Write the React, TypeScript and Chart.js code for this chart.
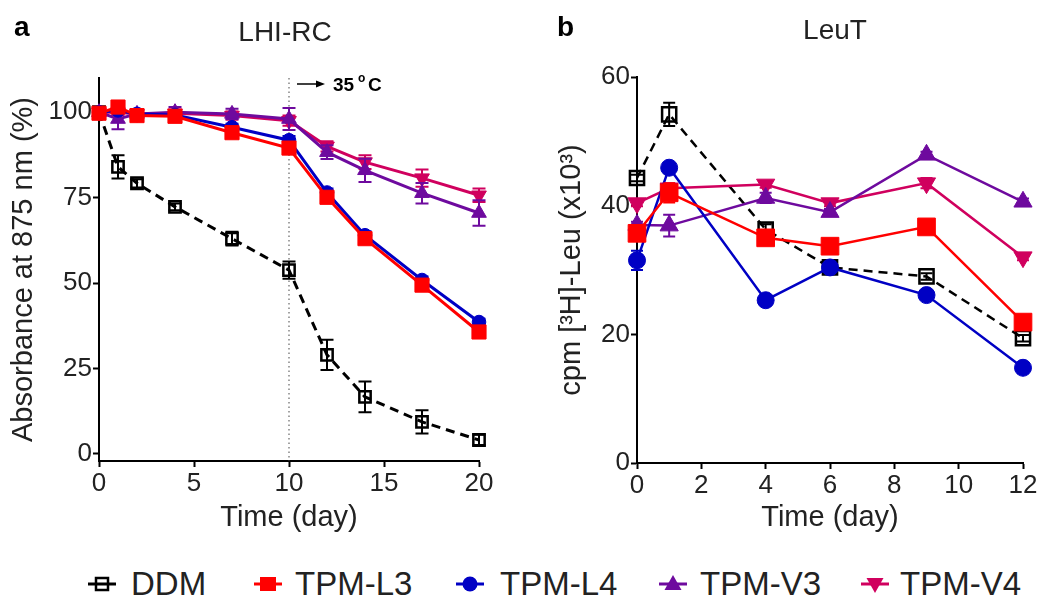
import React, { useEffect, useRef } from "react";
import { Chart, registerables } from "chart.js";

Chart.register(...registerables);

const FONT = "'Liberation Sans', Arial, Helvetica, sans-serif";

// ---------- data ----------
const seriesNames = ["DDM", "TPM-L3", "TPM-L4", "TPM-V3", "TPM-V4"];
const seriesColors = ["#000000", "#FF0000", "#0000C4", "#6E0A9E", "#D0005E"];

// Panel a: LHI-RC, absorbance at 875 nm (%)
const daysA = [0, 1, 2, 4, 7, 10, 12, 14, 17, 20];
const ddmA = [100, 84, 79.2, 72.3, 63, 53.8, 29, 16.7, 9.4, 4.1];
const ddmAErr = [1, 3.4, 1.2, 1, 2, 2.5, 4.4, 4.5, 3.4, 1.5];
const l3A = [99.7, 101.5, 99, 98.8, 94, 89.5, 75.1, 63, 49.4, 35.7];
const l3AErr = [1, 1, 1, 1, 1.2, 1.5, 1.5, 1.5, 1.2, 1];
const l4A = [100, 100.5, 99.5, 99.2, 95.6, 91.8, 76.5, 64, 50.9, 38.6];
const l4AErr = [0.8, 0.8, 0.8, 0.8, 1, 1.2, 1.2, 1.2, 1, 1];
const v3A = [100, 98, 99.5, 100, 99.5, 98, 88.3, 83, 76.3, 70.5];
const v3AErr = [1, 3, 1, 1.5, 1.5, 3.2, 2, 3.4, 3, 3.7];
const v4A = [100, 100, 99.5, 99.7, 99, 97.5, 90, 85.4, 80.7, 75.7];
const v4AErr = [1, 1, 1, 1, 1.2, 1.5, 1.5, 2, 2.5, 2];

// Panel b: LeuT, cpm [3H]-Leu (x10^3)
const daysB = [0, 1, 4, 6, 9, 12];
const ddmB = [44.3, 54.2, 36.3, 30.4, 29, 19.4];
const ddmBErr = [0.5, 1.8, 0.8, 0.5, 0.5, 0.5];
const l3B = [35.7, 42, 35, 33.7, 36.7, 21.9];
const l3BErr = [0.8, 1.5, 1, 0.5, 0.5, 0.5];
const l4B = [31.5, 45.9, 25.3, 30.4, 26.1, 14.8];
const l4BErr = [1.5, 0.5, 0.5, 0.5, 0.5, 0.5];
const v3B = [37, 36.9, 41.2, 39, 47.9, 40.6];
const v3BErr = [0.5, 1.7, 0.8, 0.5, 0.5, 0.5];
const v4B = [40.4, 42.7, 43.3, 40.4, 43.5, 32];
const v4BErr = [0.5, 0.8, 0.5, 0.5, 0.8, 0.5];

const ticksAX = [0, 5, 10, 15, 20];
const ticksAY = [0, 25, 50, 75, 100];
const ticksBX = [0, 2, 4, 6, 8, 10, 12];
const ticksBY = [0, 20, 40, 60];

const titleA = "LHI-RC";
const titleB = "LeuT";
const yTitleA = "Absorbance at 875 nm (%)";
const yTitleB = "cpm [³H]-Leu (x10³)";
const xTitle = "Time (day)";
const heatDay = 10;

// ---------- plugins ----------
const errorBarPlugin = {
  id: "errorBars",
  beforeDatasetDraw(chart: any, args: any) {
    const ds: any = chart.data.datasets[args.index];
    const errs: number[] | undefined = ds.errors;
    if (!errs) return;
    const ctx = chart.ctx;
    const ys = chart.scales.y;
    const cap = ds.capHalf || 6;
    ctx.save();
    ctx.strokeStyle = ds.borderColor;
    ctx.lineWidth = 2;
    ctx.setLineDash([]);
    args.meta.data.forEach((pt: any, i: number) => {
      const e = errs[i];
      if (!e) return;
      const v = ds.data[i].y;
      const yt = ys.getPixelForValue(v + e);
      const yb = ys.getPixelForValue(v - e);
      ctx.beginPath();
      ctx.moveTo(pt.x, yt);
      ctx.lineTo(pt.x, yb);
      ctx.moveTo(pt.x - cap, yt);
      ctx.lineTo(pt.x + cap, yt);
      ctx.moveTo(pt.x - cap, yb);
      ctx.lineTo(pt.x + cap, yb);
      ctx.stroke();
    });
    ctx.restore();
  },
};

const heatPlugin = {
  id: "heatLine",
  beforeDatasetsDraw(chart: any) {
    const ctx = chart.ctx;
    const x = chart.scales.x.getPixelForValue(heatDay);
    const { top, bottom } = chart.chartArea;
    ctx.save();
    ctx.strokeStyle = "#666";
    ctx.lineWidth = 1.2;
    ctx.setLineDash([1.5, 3]);
    ctx.beginPath();
    ctx.moveTo(x, top);
    ctx.lineTo(x, bottom);
    ctx.stroke();
    ctx.restore();
  },
  afterDraw(chart: any) {
    const ctx = chart.ctx;
    const x = chart.scales.x.getPixelForValue(heatDay);
    const y = chart.chartArea.top + 6;
    ctx.save();
    ctx.strokeStyle = "#000";
    ctx.fillStyle = "#000";
    ctx.lineWidth = 1.5;
    ctx.beginPath();
    ctx.moveTo(x + 8, y);
    ctx.lineTo(x + 30, y);
    ctx.stroke();
    ctx.beginPath();
    ctx.moveTo(x + 36, y);
    ctx.lineTo(x + 27, y - 3.5);
    ctx.lineTo(x + 27, y + 3.5);
    ctx.closePath();
    ctx.fill();
    ctx.textBaseline = "alphabetic";
    ctx.font = `bold 19px ${FONT}`;
    ctx.fillText("35", x + 44, y + 7);
    ctx.font = `bold 12px ${FONT}`;
    ctx.fillText("o", x + 69, y - 2);
    ctx.font = `bold 19px ${FONT}`;
    ctx.fillText("C", x + 79, y + 7);
    ctx.restore();
  },
};

// ---------- helpers ----------
type Sizes = { sq: number; circ: number; tri: number; ddm: number; lw: number; cap: number };

function buildDatasets(days: number[], vals: number[][], errs: number[][], s: Sizes) {
  const styles = [
    { pointStyle: "rect", radius: s.ddm, rot: 0 },
    { pointStyle: "rect", radius: s.sq, rot: 0 },
    { pointStyle: "circle", radius: s.circ, rot: 0 },
    { pointStyle: "triangle", radius: s.tri, rot: 0 },
    { pointStyle: "triangle", radius: s.tri, rot: 180 },
  ];
  const order = [4, 0, 1, 2, 3];
  return vals.map((series, k) => {
    const color = seriesColors[k];
    const isDDM = k === 0;
    return {
      label: seriesNames[k],
      data: days.map((d, i) => ({ x: d, y: series[i] })),
      errors: errs[k],
      capHalf: s.cap,
      borderColor: color,
      backgroundColor: color,
      borderWidth: s.lw,
      borderDash: isDDM ? [9, 6] : [],
      tension: 0,
      pointStyle: styles[k].pointStyle,
      pointRadius: styles[k].radius,
      pointRotation: styles[k].rot,
      pointBackgroundColor: isDDM ? "rgba(0,0,0,0)" : color,
      pointBorderColor: color,
      pointBorderWidth: isDDM ? 2.5 : 1,
      clip: false,
      order: order[k],
    };
  });
}

function axis(opts: {
  min: number;
  max: number;
  ticks: number[];
  title: string;
  isX: boolean;
  size: number;
  titlePad: any;
}) {
  return {
    type: "linear",
    min: opts.min,
    max: opts.max,
    afterBuildTicks: (scale: any) => {
      scale.ticks = opts.ticks.map((v) => ({ value: v }));
    },
    afterFit: (scale: any) => {
      if (opts.isX) scale.height = opts.size;
      else scale.width = opts.size;
    },
    border: { display: true, color: "#000", width: 2 },
    grid: {
      display: true,
      drawOnChartArea: false,
      drawTicks: true,
      tickLength: 6,
      tickWidth: 2,
      tickColor: "#000",
    },
    ticks: {
      autoSkip: false,
      maxRotation: 0,
      padding: 1,
      color: "#222",
      font: { family: FONT, size: 26 },
    },
    title: {
      display: true,
      text: opts.title,
      color: "#222",
      font: { family: FONT, size: 29 },
      padding: opts.titlePad,
    },
  };
}

function useChart(ref: React.RefObject<HTMLCanvasElement>, make: () => any) {
  useEffect(() => {
    if (!ref.current) return;
    const chart = new Chart(ref.current, make());
    return () => chart.destroy();
  }, []);
}

// ---------- components ----------
function LegendMarker({ k }: { k: number }) {
  const c = seriesColors[k];
  const cx = 14;
  const cy = 10;
  let shape: any = null;
  if (k === 0)
    shape = <rect x={cx - 6} y={cy - 6} width={12} height={12} fill="none" stroke={c} strokeWidth={2.5} />;
  if (k === 1) shape = <rect x={cx - 8} y={cy - 7} width={16} height={14} fill={c} />;
  if (k === 2) shape = <circle cx={cx} cy={cy} r={7.5} fill={c} />;
  if (k === 3) shape = <polygon points={`${cx},${cy - 9} ${cx + 8.5},${cy + 6} ${cx - 8.5},${cy + 6}`} fill={c} />;
  if (k === 4) shape = <polygon points={`${cx},${cy + 9} ${cx + 8.5},${cy - 6} ${cx - 8.5},${cy - 6}`} fill={c} />;
  return (
    <svg width={28} height={20} style={{ display: "block" }}>
      <line x1={0} y1={cy} x2={28} y2={cy} stroke={c} strokeWidth={3} />
      {shape}
    </svg>
  );
}

const legendMarkerCenters = [102, 268, 470, 673, 875];
const legendTextLefts = [131, 295, 500, 700, 900];

export default function App() {
  const refA = useRef<HTMLCanvasElement>(null);
  const refB = useRef<HTMLCanvasElement>(null);

  useEffect(() => {
    document.body.style.margin = "0";
  }, []);

  useChart(refA, () => ({
    type: "line",
    data: {
      datasets: buildDatasets(
        daysA,
        [ddmA, l3A, l4A, v3A, v4A],
        [ddmAErr, l3AErr, l4AErr, v3AErr, v4AErr],
        { sq: 10, circ: 6.8, tri: 8.5, ddm: 8, lw: 3, cap: 6.5 }
      ),
    },
    options: {
      responsive: false,
      devicePixelRatio: 1,
      animation: false,
      layout: { padding: { left: 0, right: 41, top: 78, bottom: 0 } },
      plugins: { legend: { display: false }, tooltip: { enabled: false } },
      scales: {
        x: axis({ min: 0, max: 20, ticks: ticksAX, title: xTitle, isX: true, size: 84, titlePad: { top: 0, bottom: 10 } }),
        y: axis({ min: -2.05, max: 110, ticks: ticksAY, title: yTitleA, isX: false, size: 99, titlePad: { top: 7, bottom: 0 } }),
      },
    },
    plugins: [errorBarPlugin, heatPlugin],
  }));

  useChart(refB, () => ({
    type: "line",
    data: {
      datasets: buildDatasets(
        daysB,
        [ddmB, l3B, l4B, v3B, v4B],
        [ddmBErr, l3BErr, l4BErr, v3BErr, v4BErr],
        { sq: 12.5, circ: 8.5, tri: 10.5, ddm: 10, lw: 2.5, cap: 6 }
      ),
    },
    options: {
      responsive: false,
      devicePixelRatio: 1,
      animation: false,
      layout: { padding: { left: 0, right: 27, top: 77, bottom: 0 } },
      plugins: { legend: { display: false }, tooltip: { enabled: false } },
      scales: {
        x: axis({ min: 0, max: 12, ticks: ticksBX, title: xTitle, isX: true, size: 82, titlePad: { top: 0, bottom: 10 } }),
        y: axis({ min: 0, max: 60, ticks: ticksBY, title: yTitleB, isX: false, size: 107, titlePad: { top: 25, bottom: 0 } }),
      },
    },
    plugins: [errorBarPlugin],
  }));

  const textStyle: React.CSSProperties = {
    position: "absolute",
    fontFamily: FONT,
    color: "#222",
    whiteSpace: "nowrap",
    margin: 0,
  };

  return (
    <div style={{ position: "absolute", left: 0, top: 0, width: 1050, height: 612, background: "#fff", overflow: "hidden" }}>
      <canvas ref={refA} width={520} height={545} style={{ position: "absolute", left: 0, top: 0, width: 520, height: 545 }} />
      <canvas ref={refB} width={520} height={545} style={{ position: "absolute", left: 530, top: 0, width: 520, height: 545 }} />

      <div style={{ ...textStyle, left: 14, top: 13, fontSize: 28, lineHeight: "28px", fontWeight: "bold", color: "#000" }}>a</div>
      <div style={{ ...textStyle, left: 557, top: 13, fontSize: 28, lineHeight: "28px", fontWeight: "bold", color: "#000" }}>b</div>
      <div style={{ ...textStyle, left: 185, width: 200, textAlign: "center", top: 18, fontSize: 28, lineHeight: "28px" }}>{titleA}</div>
      <div style={{ ...textStyle, left: 735, width: 200, textAlign: "center", top: 16, fontSize: 28, lineHeight: "28px" }}>{titleB}</div>

      {seriesNames.map((name, k) => (
        <React.Fragment key={name}>
          <div style={{ position: "absolute", left: legendMarkerCenters[k] - 14, top: 574 }}>
            <LegendMarker k={k} />
          </div>
          <div style={{ ...textStyle, left: legendTextLefts[k], top: 564, fontSize: 33, lineHeight: "40px" }}>{name}</div>
        </React.Fragment>
      ))}
    </div>
  );
}
